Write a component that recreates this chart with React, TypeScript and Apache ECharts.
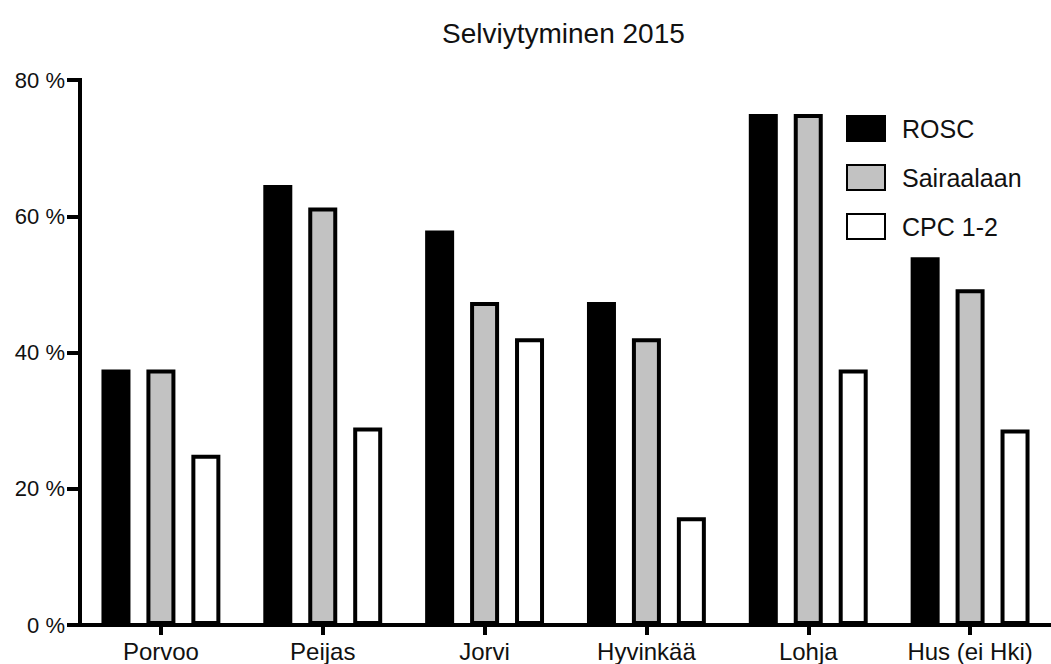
import React, { useEffect, useRef } from "react";
import * as echarts from "echarts";

const title = "Selviytyminen 2015";
const categories = ["Porvoo", "Peijas", "Jorvi", "Hyvinkää", "Lohja", "Hus (ei Hki)"];
const seriesNames = ["ROSC", "Sairaalaan", "CPC 1-2"];
const rosc = [37.5, 64.6, 57.9, 47.4, 75.0, 54.0];
const sairaalaan = [37.5, 61.3, 47.4, 42.1, 75.0, 49.3];
const cpc = [25.0, 29.0, 42.1, 15.8, 37.5, 28.7];
const seriesColors = ["#000000", "#c2c2c2", "#ffffff"];
const yMin = 0;
const yMax = 80;
const yStep = 20;

const FONT = "'Liberation Sans', Arial, Helvetica, sans-serif";

export default function App() {
  const ref = useRef<HTMLDivElement>(null);
  useEffect(() => {
    if (!ref.current) return;
    const chart = echarts.init(ref.current, null, { renderer: "svg" });
    const values = [rosc, sairaalaan, cpc];
    chart.setOption({
      animation: false,
      backgroundColor: "#ffffff",
      title: {
        text: title,
        left: 437,
        top: 14,
        textStyle: { fontFamily: FONT, fontSize: 28, fontWeight: "normal", color: "#111" },
      },
      legend: {
        orient: "vertical",
        left: 841,
        top: 110,
        padding: 5,
        icon: "rect",
        itemWidth: 38,
        itemHeight: 25,
        itemGap: 22,
        data: seriesNames,
        textStyle: {
          fontFamily: FONT,
          fontSize: 25,
          color: "#111",
          padding: [0, 0, 0, 12],
        },
      },
      grid: { left: 80, top: 80, width: 978, height: 545, containLabel: false },
      xAxis: {
        type: "category",
        data: categories,
        boundaryGap: true,
        axisLine: { show: true, lineStyle: { color: "#000", width: 4, cap: "square" } },
        axisTick: { show: true, interval: 0, alignWithLabel: true, length: 10, lineStyle: { color: "#000", width: 4 } },
        axisLabel: { interval: 0, margin: 14, fontFamily: FONT, fontSize: 24, color: "#111" },
        splitLine: { show: false },
      },
      yAxis: {
        type: "value",
        min: yMin,
        max: yMax,
        interval: yStep,
        axisLine: { show: true, lineStyle: { color: "#000", width: 4, cap: "square" } },
        axisTick: { show: true, length: 13, lineStyle: { color: "#000", width: 4 } },
        axisLabel: { margin: 15, fontFamily: FONT, fontSize: 22, color: "#111", formatter: "{value} %" },
        splitLine: { show: false },
      },
      series: seriesNames.map((name, i) => ({
        name,
        type: "bar",
        data: values[i],
        barWidth: 29,
        barGap: "55%",
        itemStyle: { color: seriesColors[i], borderColor: "#000", borderWidth: 4 },
      })),
    });
    return () => chart.dispose();
  }, []);
  return (
    <div
      ref={ref}
      style={{ position: "absolute", left: 0, top: 0, width: 1051, height: 664, background: "#fff" }}
    />
  );
}
